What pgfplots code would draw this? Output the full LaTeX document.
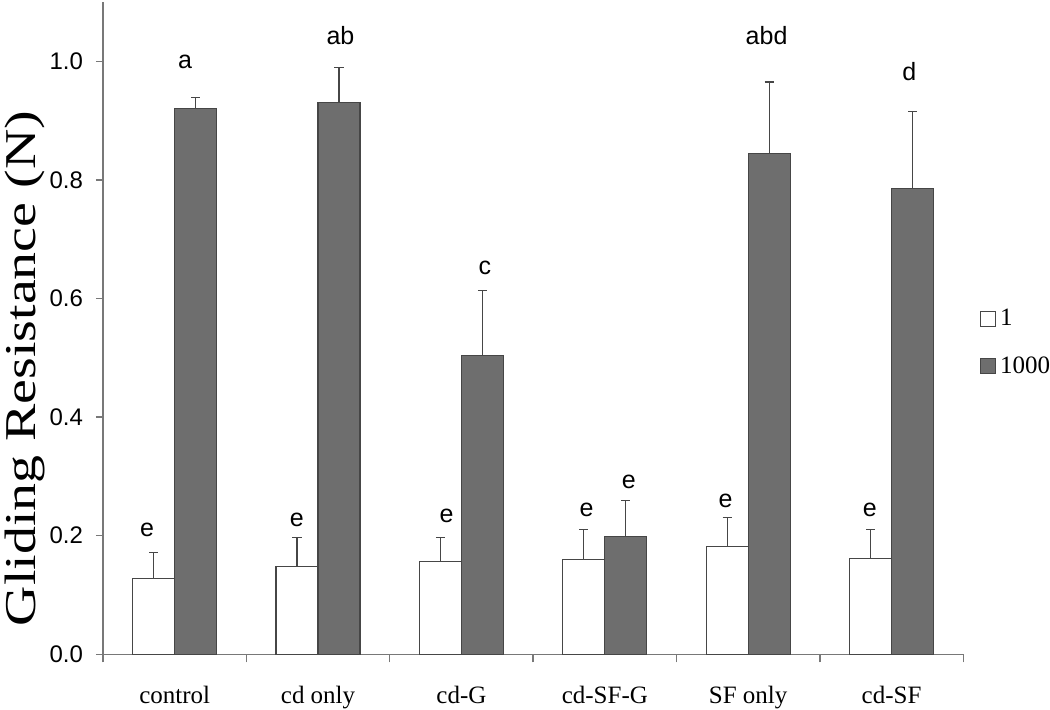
\documentclass[border=0pt]{standalone}
\usepackage{pgfplots}
\pgfplotsset{compat=1.18}
\usepackage{fontspec}
\setmainfont{Liberation Serif}
\newfontfamily\arial{Liberation Sans}
\usepackage{graphicx}
\definecolor{barg}{RGB}{110,110,110}
\definecolor{edge}{RGB}{70,70,70}
\definecolor{axg}{RGB}{120,120,120}
\begin{document}
\begin{tikzpicture}
\begin{axis}[
 scale only axis, width=430.15pt, height=326.15pt,
 xmin=-0.5, xmax=5.5, ymin=0, ymax=1.1,
 axis lines=left, axis line style={draw=axg, line width=0.7pt, -},
 ybar=0pt, bar width=21pt,
 xtick={0,1,2,3,4,5}, xticklabels={control, cd only, cd-G, cd-SF-G, SF only, cd-SF},
 major x tick style={draw=none},
 minor xtick={-0.5,0.5,1.5,2.5,3.5,4.5,5.5},
 minor x tick style={draw=axg, line width=0.7pt},
 minor tick length=4pt,
 ytick={0,0.2,0.4,0.6,0.8,1}, yticklabels={0.0,0.2,0.4,0.6,0.8,1.0},
 y tick style={draw=axg, line width=0.7pt},
 major tick length=3.5pt,
 tick align=outside,
 xticklabel style={font=\fontsize{12.5}{14}\selectfont, yshift=-9pt},
 yticklabel style={font=\arial\fontsize{12}{14}\selectfont, xshift=-3pt},
 ylabel={\scalebox{1.27}[1]{\fontsize{22}{26}\selectfont Gliding Resistance (N)}},
 ylabel style={at={(axis description cs:-0.0905,0.438)}, anchor=center, inner sep=0pt},
 legend style={at={(1.019,0.478)}, anchor=west, draw=none, fill=none,
   font=\fontsize{12.5}{14}\selectfont, row sep=10pt, inner sep=0pt,
   /tikz/every even column/.append style={column sep=2pt}},
 legend cell align=left,
 legend image code/.code={\draw[#1, line width=0.5pt] (0pt,-3.75pt) rectangle (7.5pt,3.75pt);},
 clip=false,
]
\addplot[fill=white, draw=edge, line width=0.6pt,
  error bars/.cd, y dir=plus, y explicit,
  error bar style={draw=edge, line width=0.6pt},
  error mark options={rotate=90, mark size=2.3pt, draw=edge, line width=0.6pt}]
 coordinates {(0,0.128) +- (0,0.043) (1,0.148) +- (0,0.049) (2,0.156) +- (0,0.041)
              (3,0.160) +- (0,0.051) (4,0.182) +- (0,0.049) (5,0.162) +- (0,0.049)};
\addplot[fill=barg, draw=edge, line width=0.6pt,
  error bars/.cd, y dir=plus, y explicit,
  error bar style={draw=edge, line width=0.6pt},
  error mark options={rotate=90, mark size=2.3pt, draw=edge, line width=0.6pt}]
 coordinates {(0,0.921) +- (0,0.018) (1,0.931) +- (0,0.059) (2,0.504) +- (0,0.110)
              (3,0.199) +- (0,0.060) (4,0.845) +- (0,0.120) (5,0.786) +- (0,0.129)};
\legend{1,1000}
\tikzset{lbl/.style={font=\arial\fontsize{12.5}{14}\selectfont, anchor=base, inner sep=0pt}}
\node[lbl] at (axis cs:-0.193,0.199) {e};
\node[lbl] at (axis cs:0.072,0.988) {a};
\node[lbl] at (axis cs:0.851,0.216) {e};
\node[lbl] at (axis cs:1.156,1.029) {ab};
\node[lbl] at (axis cs:1.897,0.2215) {e};
\node[lbl] at (axis cs:2.164,0.641) {c};
\node[lbl] at (axis cs:2.873,0.2316) {e};
\node[lbl] at (axis cs:3.168,0.2796) {e};
\node[lbl] at (axis cs:3.842,0.2468) {e};
\node[lbl] at (axis cs:4.128,1.0275) {abd};
\node[lbl] at (axis cs:4.849,0.2316) {e};
\node[lbl] at (axis cs:5.123,0.967) {d};
\coordinate (O) at (rel axis cs:0,0);
\end{axis}
\pgfresetboundingbox
\path (O) ++(-51.5pt,-27.85pt) rectangle ++(525pt,355pt);
\end{tikzpicture}
\end{document}
